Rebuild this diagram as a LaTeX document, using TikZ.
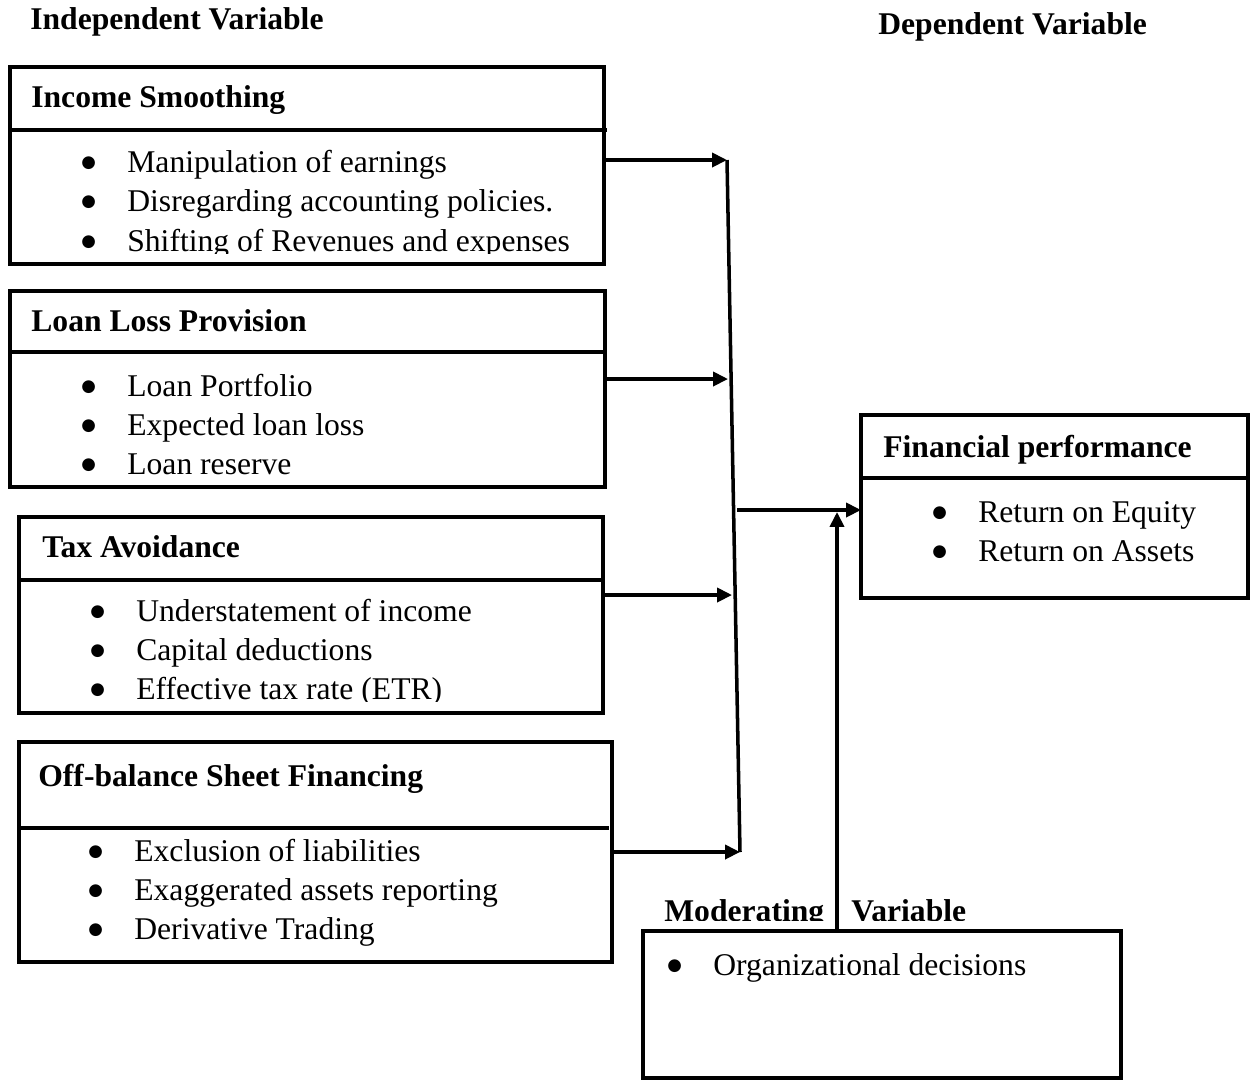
\documentclass[tikz,border=0pt]{standalone}
\usepackage{fontspec}
\setmainfont{Liberation Serif}
\newfontfamily\symf{DejaVu Sans}
\usetikzlibrary{arrows.meta}
\newcommand\blt{\makebox[0.9cm][l]{\hspace{-0.5pt}\raisebox{2.8pt}{\symf\fontsize{9.5}{9.5}\selectfont ●}}}
\begin{document}
\begin{tikzpicture}[x=0.02cm,y=-0.02cm,
  boxst/.style={draw, line width=2pt, inner sep=0pt, outer sep=0pt, anchor=north west},
  txt/.style={inner sep=0pt, anchor=base west, font=\fontsize{18}{22}\selectfont},
  ttl/.style={inner sep=0pt, anchor=base west, font=\fontsize{18}{22}\selectfont\bfseries},
  arr/.style={line width=2pt, -{Triangle[length=8.5pt,width=8pt]}},
  ln/.style={line width=2pt}]
\useasboundingbox (0,0) rectangle (1250,1080);

% headers
\node[ttl] (hind) at (30,29) {Independent Variable};
\node[ttl] (hdep) at (878,34) {Dependent Variable};

% Box 1
\node[boxst, minimum width=11.88cm, minimum height=3.94cm] (b1) at (10,67) {};
\draw[ln] (b1.west |- 0,130) -- (607,130);
\node[ttl] (b1t) at (31,107) {Income Smoothing};
\node[txt] (b1a) at (82,172) {\blt Manipulation of earnings};
\node[txt] (b1b) at (82,211) {\blt Disregarding accounting policies.};
\begin{scope}
\clip (0,0) rectangle (604,253);
\node[txt] (b1c) at (82,251) {\blt Shifting of Revenues and expenses};
\end{scope}

% Box 2
\node[boxst, minimum width=11.90cm, minimum height=3.92cm] (b2) at (10,291) {};
\draw[ln] (b2.west |- 0,352) -- (605,352);
\node[ttl] (b2t) at (31,331) {Loan Loss Provision};
\node[txt] (b2a) at (82,396) {\blt Loan Portfolio};
\node[txt] (b2b) at (82,435) {\blt Expected loan loss};
\node[txt] (b2c) at (82,474) {\blt Loan reserve};

% Box 3
\node[boxst, minimum width=11.68cm, minimum height=3.92cm] (b3) at (19,517) {};
\draw[ln] (b3.west |- 0,580) -- (603,580);
\node[ttl] (b3t) at (42,557) {Tax Avoidance};
\node[txt] (b3a) at (91,621) {\blt Understatement of income};
\node[txt] (b3b) at (91,660) {\blt Capital deductions};
\begin{scope}
\clip (0,0) rectangle (603,701);
\node[txt] (b3c) at (91,699) {\blt Effective tax rate (ETR)};
\end{scope}

% Box 4
\node[boxst, minimum width=11.86cm, minimum height=4.40cm] (b4) at (19,742) {};
\draw[ln] (b4.west |- 0,828) -- (609,828);
\node[ttl] (b4t) at (38,786) {Off-balance Sheet Financing};
\node[txt] (b4a) at (89,861) {\blt Exclusion of liabilities};
\node[txt] (b4b) at (89,900) {\blt Exaggerated assets reporting};
\node[txt] (b4c) at (89,939) {\blt Derivative Trading};

% Box 5 (dependent)
\node[boxst, minimum width=7.74cm, minimum height=3.66cm] (b5) at (861,415) {};
\draw[ln] (b5.west |- 0,478) -- (1248,478);
\node[ttl] (b5t) at (883,457) {Financial performance};
\node[txt] (b5a) at (933,522) {\blt Return on Equity};
\node[txt] (b5b) at (933,561) {\blt Return on Assets};

% Box 6 (moderating)
\node[boxst, minimum width=9.56cm, minimum height=2.94cm] (b6) at (643,931) {};
\begin{scope}
\clip (600,880) rectangle (1000,920);
\node[ttl] (mod1) at (664,921) {Moderating};
\node[ttl] (mod2) at (851,921) {Variable};
\end{scope}
\node[txt] (b6a) at (668,975) {\blt Organizational decisions};

% junction line
\coordinate (jt) at (727,160);
\coordinate (jb) at (740,852);
\draw[ln] (jt) -- (jb);
\coordinate (j2) at (728,379);
\coordinate (j3) at (732,595);
\coordinate (jm) at (737,510);
\coordinate (mt) at (837,512);

\draw[arr] (b1.east |- jt) -- (jt);
\draw[arr] (b2.east |- j2) -- (j2);
\draw[arr] (b3.east |- j3) -- (j3);
\draw[arr] (b4.east |- jb) -- (jb);
\draw[arr] (jm) -- (b5.west |- jm);
\draw[arr] (b6.north -| mt) -- (mt);
\end{tikzpicture}
\end{document}
